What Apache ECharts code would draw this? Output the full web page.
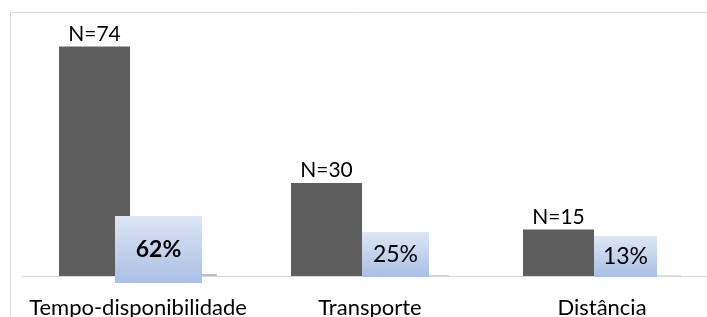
<!DOCTYPE html>
<html>
<head>
<meta charset="utf-8">
<script src="https://cdn.jsdelivr.net/npm/echarts@6/dist/echarts.min.js"></script>
<style>
  html, body { margin: 0; padding: 0; background: #fff; }
  #chart { width: 707px; height: 317px; }
</style>
</head>
<body>
<div id="chart"></div>
<script>
var categories = ['Tempo-disponibilidade', 'Transporte', 'Distância'];
var counts = [74, 30, 15];
var shares = [0.62, 0.25, 0.13];

// label boxes for the percentage series (offset from bar corner, size, bold)
var boxes = [
  { dx: 28.5, dy: -24.6, w: 87, h: 67, bold: true },
  { dx: 33.5, dy: -20.7, w: 67, h: 45, bold: false },
  { dx: 31.5, dy: -19.1, w: 63, h: 41, bold: false }
];

var FONT = 'Lato';

var myChart = echarts.init(document.getElementById('chart'));

var blueFill = new echarts.graphic.LinearGradient(0, 0, 0, 1, [
  { offset: 0, color: '#dde6f5' },
  { offset: 1, color: '#a9bfe4' }
]);

var shareData = shares.map(function (v, i) {
  var b = boxes[i];
  return {
    value: v,
    label: {
      show: true,
      position: [b.dx, b.dy],
      align: 'center',
      verticalAlign: 'middle',
      width: b.w,
      height: b.h,
      lineHeight: b.h + 2,
      backgroundColor: blueFill,
      fontWeight: b.bold ? 'bold' : 'normal',
      fontSize: 23,
      fontFamily: FONT,
      color: '#000',
      formatter: Math.round(v * 100) + '%'
    }
  };
});

var option = {
  animation: false,
  graphic: [{
    type: 'rect',
    shape: { x: 10.5, y: 12.5, width: 720, height: 330 },
    style: { fill: null, stroke: '#d9d9d9', lineWidth: 1 },
    silent: true
  }],
  grid: { left: 22, right: -11, top: 28, bottom: 41, outerBoundsMode: 'none', containLabel: false },
  xAxis: {
    type: 'category',
    data: categories,
    axisTick: { show: false },
    axisLine: { lineStyle: { color: '#d9d9d9', width: 1 } },
    axisLabel: {
      interval: 0,
      margin: 21,
      fontSize: 22,
      fontFamily: FONT,
      color: '#000'
    }
  },
  yAxis: {
    type: 'value',
    min: 0,
    max: 80,
    show: false,
    splitLine: { show: false }
  },
  series: [
    {
      type: 'bar',
      data: counts,
      barWidth: 71,
      barGap: '0%',
      itemStyle: { color: '#5e5e5e' },
      label: {
        show: true,
        position: 'top',
        distance: 2,
        fontSize: 21,
        fontFamily: FONT,
        color: '#000',
        formatter: function (p) { return 'N=' + p.value; }
      }
    },
    {
      type: 'bar',
      data: shareData,
      barWidth: 87,
      barGap: '0%',
      itemStyle: { color: '#bfbfbf' }
    }
  ]
};

myChart.setOption(option);
</script>
</body>
</html>
